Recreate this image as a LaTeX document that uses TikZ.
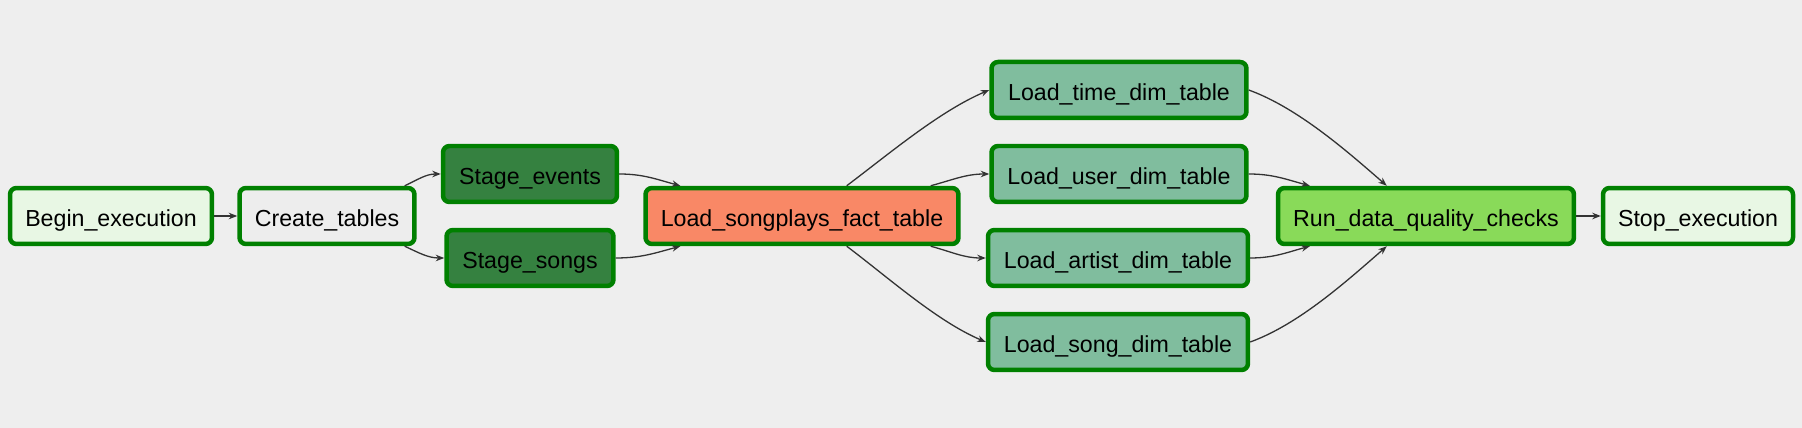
\documentclass[tikz,border=0pt]{standalone}
\usepackage{fontspec}
\setmainfont{Liberation Sans}
\usetikzlibrary{calc,arrows.meta}
\definecolor{cbg}{HTML}{EEEEEE}
\definecolor{cedge}{HTML}{333333}
\definecolor{cok}{HTML}{008000}
\definecolor{cdummy}{HTML}{E8F7E4}
\definecolor{cpg}{HTML}{EDEDED}
\definecolor{cstage}{HTML}{358140}
\definecolor{cfact}{HTML}{F98866}
\definecolor{cdim}{HTML}{80BD9E}
\definecolor{ccheck}{HTML}{89DA59}

\begin{document}
\begin{tikzpicture}[x=0.02cm, y=0.02cm,
  task/.style={draw=cok, line width=0.09cm, rounded corners=0.13cm, minimum height=1.12cm,
    inner sep=0pt, text height=0.5cm, text depth=0.06cm, text=black,
    font=\fontsize{13.2}{15}\selectfont},
  dep/.style={-{Stealth[length=0.17cm, width=0.13cm]}, cedge, line width=0.026cm}]
% canvas of the graph view, 1 unit = 1 pixel
\fill[cbg] (0,0) rectangle (1802,-428);
\useasboundingbox (0,0) rectangle (1802,-428);
%% ------------------------------------------------------------------ tasks
\node[task, fill=cdummy, minimum width=4.04cm] (begin) at (111,-216) {Begin\_execution};
\node[task, fill=cpg, minimum width=3.5cm] (create) at (327,-216) {Create\_tables};
\node[task, fill=cstage, minimum width=3.48cm] (events) at (530,-174) {Stage\_events};
\node[task, fill=cstage, minimum width=3.34cm] (songs) at (530,-258) {Stage\_songs};
\node[task, fill=cfact, minimum width=6.26cm] (fact) at (802,-216) {Load\_songplays\_fact\_table};
\node[task, fill=cdim, minimum width=5.1cm] (time) at (1119,-90) {Load\_time\_dim\_table};
\node[task, fill=cdim, minimum width=5.1cm] (user) at (1119,-174) {Load\_user\_dim\_table};
\node[task, fill=cdim, minimum width=5.2cm] (artist) at (1118,-258) {Load\_artist\_dim\_table};
\node[task, fill=cdim, minimum width=5.2cm] (song) at (1118,-342) {Load\_song\_dim\_table};
\node[task, fill=ccheck, minimum width=5.92cm] (check) at (1426,-216) {Run\_data\_quality\_checks};
\node[task, fill=cdummy, minimum width=3.8cm] (stop) at (1698,-216) {Stop\_execution};
%% ------------------------------------------------------------------ dependencies
\draw[dep] (begin.east) -- (create.west);
\draw[dep] ($(create.north east)+(-12,0)$) to[out=25, in=180] (events.west);
\draw[dep] ($(create.south east)+(-12,0)$) to[out=-25, in=180] (songs.west);
% staging into the fact table
\draw[dep] (events.east) to[out=0, in=165] ($(fact.north west)+(37,0)$);
\draw[dep] (songs.east) to[out=0, in=195] ($(fact.south west)+(37,0)$);
% fact table out to the dimensions
\draw[dep] ($(fact.north east)+(-114,0)$) to[out=37, in=203, looseness=0.8] (time.west);
\draw[dep] ($(fact.north east)+(-30,0)$) to[out=15, in=180] (user.west);
\draw[dep] ($(fact.south east)+(-30,0)$) to[out=-15, in=180] (artist.west);
\draw[dep] ($(fact.south east)+(-114,0)$) to[out=-37, in=157, looseness=0.8] (song.west);
% dimensions into the checks
\draw[dep] (time.east) to[out=-20, in=139, looseness=0.8] ($(check.north west)+(111,0)$);
\draw[dep] (user.east) to[out=0, in=165] ($(check.north west)+(34,0)$);
\draw[dep] (artist.east) to[out=0, in=195] ($(check.south west)+(34,0)$);
\draw[dep] (song.east) to[out=20, in=221, looseness=0.8] ($(check.south west)+(111,0)$);
\draw[dep] (check.east) -- (stop.west);
\end{tikzpicture}
\end{document}
